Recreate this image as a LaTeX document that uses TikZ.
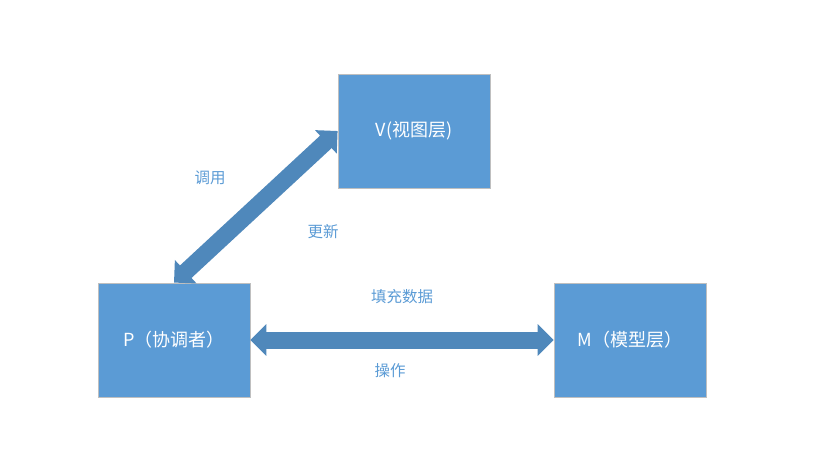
\documentclass[tikz,border=0pt]{standalone}
\usepackage{fontspec}
\newfontfamily\cjk{Noto Sans CJK SC}
\usetikzlibrary{arrows.meta}
\definecolor{boxblue}{HTML}{5B9BD5}
\definecolor{arrowblue}{HTML}{4F88BB}
\definecolor{labelblue}{HTML}{5B9BD5}
\definecolor{boxedge}{HTML}{BFBFBF}
\tikzset{
  layerbox/.style={draw=boxedge, line width=0.8pt, fill=boxblue, minimum width=152pt, minimum height=114pt, inner sep=0pt, text=white, font=\cjk\fontsize{18}{21}\selectfont},
  linklabel/.style={text=labelblue, inner sep=0pt, font=\cjk\fontsize{15.5}{18}\selectfont},
  bigarrow/.style={draw=arrowblue, line width=17pt, {Triangle[length=16pt,width=31pt]}-{Triangle[length=16pt,width=31pt]}}
}
\begin{document}
\begin{tikzpicture}[x=1pt,y=-1pt]
\useasboundingbox (0,0) rectangle (827,473);
\node[layerbox] (V) at (414,131) {V(视图层)};
\node[layerbox] (P) at (174,340) {P（协调者）};
\node[layerbox] (M) at (630,340) {M（模型层）};
\draw[bigarrow] (P.north) -- (V.west);
\draw[bigarrow] (P.east) -- (M.west);
\node[linklabel] (l1) at (210,178) {调用};
\node[linklabel] (l2) at (323,232) {更新};
\node[linklabel] (l3) at (402,297) {填充数据};
\node[linklabel] (l4) at (390,371) {操作};
\end{tikzpicture}
\end{document}
